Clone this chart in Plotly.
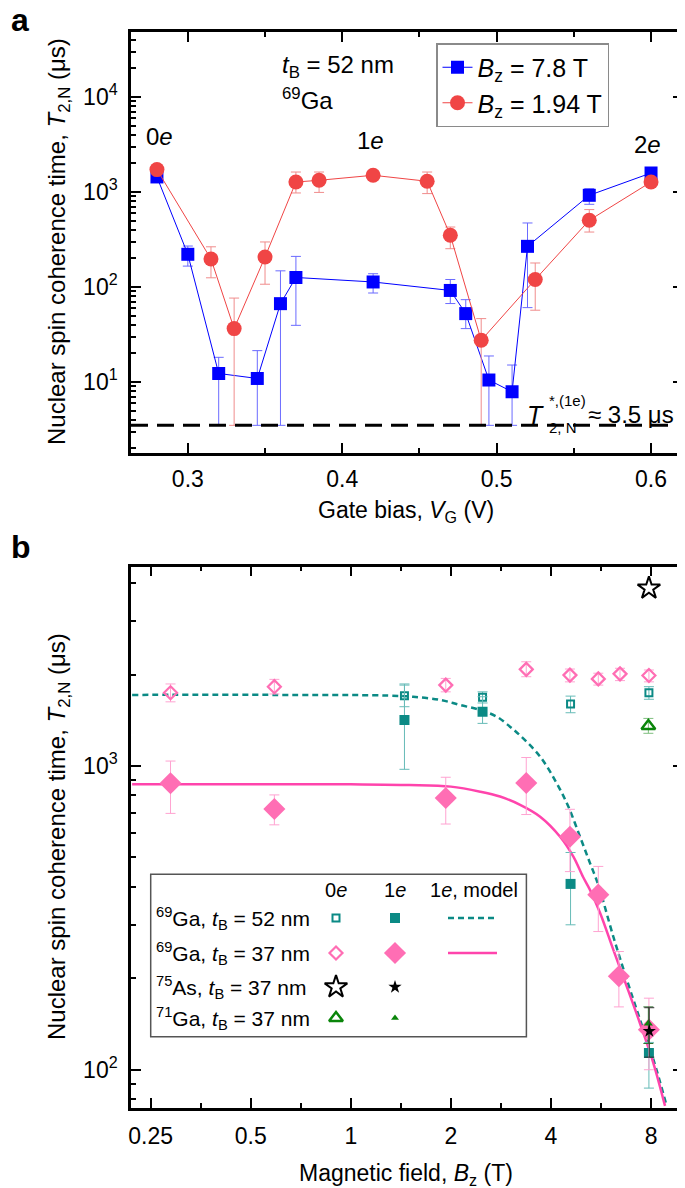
import plotly.graph_objects as go

# ---------------- Panel a data (gate bias dependence) ----------------
vg_78 = [0.28, 0.30, 0.32, 0.345, 0.36, 0.37, 0.42, 0.47, 0.48, 0.495, 0.51, 0.52, 0.56, 0.60]
t_78 = [1440, 221, 12.3, 10.9, 66.8, 126, 113, 92, 52.5, 10.5, 7.9, 268, 923, 1585]
t_78_hi = [1500, 270, 18.2, 21.4, 148, 210, 138, 120, 73.6, 18.8, 15.1, 472, 1085, 1680]
T2_STAR = 3.5
t_78_lo = [1380, 166, T2_STAR, T2_STAR, T2_STAR, 39.5, 86.5, 67, 36.5, T2_STAR, T2_STAR, 60.7, 742, 1500]

vg_194 = [0.28, 0.315, 0.33, 0.35, 0.37, 0.385, 0.42, 0.455, 0.47, 0.49, 0.525, 0.56, 0.60]
t_194 = [1720, 197, 36.5, 207, 1274, 1328, 1500, 1297, 350, 27.5, 120, 504, 1274]
t_194_hi = [1800, 265, 76.5, 298, 1623, 1623, 1600, 1623, 428, 46.5, 179, 653, 1340]
t_194_lo = [1650, 125, T2_STAR, 107, 977, 990, 1420, 962, 253, T2_STAR, 57, 379, 1210]

# ---------------- Panel b data (field dependence) ----------------
b_ga69_52_0e = [1.45, 2.49, 4.58, 7.88]
t_ga69_52_0e = [1703, 1683, 1600, 1742]
t_ga69_52_0e_hi = [1862, 1754, 1698, 1824]
t_ga69_52_0e_lo = [1567, 1612, 1497, 1658]

b_ga69_52_1e = [1.45, 2.49, 4.58, 7.88]
t_ga69_52_1e = [1417, 1509, 409, 113.5]
t_ga69_52_1e_hi = [1846, 1690, 519, 123]
t_ga69_52_1e_lo = [975, 1381, 300, 87]

b_ga69_37_0e = [0.287, 0.589, 1.93, 3.37, 4.56, 5.55, 6.45, 7.88]
t_ga69_37_0e = [1742, 1824, 1846, 2080, 1991, 1935, 2010, 1985]
t_ga69_37_0e_hi = [1862, 1928, 1942, 2203, 2085, 2020, 2097, 2070]
t_ga69_37_0e_lo = [1626, 1726, 1754, 1967, 1892, 1846, 1910, 1892]

b_ga69_37_1e = [0.287, 0.589, 1.93, 3.37, 4.56, 5.55, 6.4, 7.88]
t_ga69_37_1e = [877, 722, 784, 879, 585, 377, 203, 135.5]
t_ga69_37_1e_hi = [1038, 803, 918, 1066, 720, 467, 245, 172]
t_ga69_37_1e_lo = [698, 640, 644, 692, 449, 285, 161, 100]

b_as75_0e = [7.88]
t_as75_0e = [3846]
b_as75_1e = [7.9]
t_as75_1e = [134]
t_as75_1e_hi = [160]
t_as75_1e_lo = [110]

b_ga71_0e = [7.85]
t_ga71_0e = [1354]
t_ga71_0e_hi = [1434]
t_ga71_0e_lo = [1281]
b_ga71_1e = [7.85]
t_ga71_1e = [142]
t_ga71_1e_hi = [161]
t_ga71_1e_lo = [122]

# model curves
b_model_52 = [0.22, 0.6, 1.0, 1.3, 1.54, 1.86, 2.13, 2.45, 2.75, 3.01, 3.23, 3.71, 4.16, 4.51,
              4.89, 5.24, 5.55, 6.16, 6.76, 7.41, 8.13, 8.91]
t_model_52 = [1714, 1714, 1712, 1705, 1690, 1649, 1588, 1528, 1452, 1347, 1260, 1073, 877, 735,
              585, 479, 406, 274, 198, 146, 108, 76]
b_model_37 = [0.22, 0.6, 1.0, 1.5, 2.0, 2.45, 2.81, 3.23, 3.71, 4.26, 4.67, 5.0, 5.24, 5.62,
              6.16, 6.76, 7.41, 8.13, 8.81]
t_model_37 = [871, 871, 870, 866, 855, 823, 793, 745, 681, 585, 503, 430, 391, 328,
              248, 188, 142, 105, 76]

# tick labels
xa_ticks = [0.3, 0.4, 0.5, 0.6]
xa_minor = [0.35, 0.45, 0.55]
ya_ticks = [10, 100, 1000, 10000]
ya_text = ["10<sup>1</sup>", "10<sup>2</sup>", "10<sup>3</sup>", "10<sup>4</sup>"]
xb_ticks = [0.25, 0.5, 1, 2, 4, 8]
xb_text = ["0.25", "0.5", "1", "2", "4", "8"]
xb_minor = [0.3536, 0.7071, 1.4142, 2.8284, 5.6569]
yb_ticks = [100, 1000]
yb_text = ["10<sup>2</sup>", "10<sup>3</sup>"]


def errs(v, hi, lo):
    return [h - x for x, h in zip(v, hi)], [x - l for x, l in zip(v, lo)]


# ---------------- layout geometry (page pixel frame) ----------------
PAGE_W, PAGE_H = 685, 1188
BODY = 8                      # default page margin around the plot div
PLOT_L, PLOT_R, PLOT_T, PLOT_B = 131, 683, 32, 1108
W, H = PAGE_W - BODY, PAGE_H - BODY
ML, MT = PLOT_L - BODY, PLOT_T - BODY
MR, MB = PAGE_W - PLOT_R, PAGE_H - PLOT_B
PW, PH = PLOT_R - PLOT_L, PLOT_B - PLOT_T


def px(x):
    return (x - PLOT_L) / PW


def py(y):
    return (PLOT_B - y) / PH


FONT = "Arial, Liberation Sans, sans-serif"
BLUE, BLUE_E = "#0000ff", "#6b6bff"
RED, RED_E = "#f04545", "#f08c8c"
TEAL, TEAL_E = "#0b8a85", "#66bbb7"
PINK, PINK_E, PINK_L = "#ff6eb4", "#ffa3d1", "#ff44ac"
GREEN = "#0a850a"

fig = go.Figure()

# ---- panel a ----
ep, em = errs(t_78, t_78_hi, t_78_lo)
fig.add_trace(go.Scatter(
    x=vg_78, y=t_78, mode="lines+markers", xaxis="x", yaxis="y",
    name="<i>B</i><sub>z</sub> = 7.8 T",
    line=dict(color=BLUE, width=1),
    marker=dict(symbol="square", size=13, color=BLUE),
    error_y=dict(type="data", symmetric=False, array=ep, arrayminus=em,
                 color=BLUE_E, thickness=1, width=5)))
ep, em = errs(t_194, t_194_hi, t_194_lo)
fig.add_trace(go.Scatter(
    x=vg_194, y=t_194, mode="lines+markers", xaxis="x", yaxis="y",
    name="<i>B</i><sub>z</sub> = 1.94 T",
    line=dict(color=RED, width=1),
    marker=dict(symbol="circle", size=15, color=RED),
    error_y=dict(type="data", symmetric=False, array=ep, arrayminus=em,
                 color=RED_E, thickness=1, width=5)))

# ---- panel b ----
fig.add_trace(go.Scatter(x=b_model_52, y=t_model_52, mode="lines", xaxis="x2", yaxis="y2",
                         showlegend=False, line=dict(color=TEAL, width=2.5, dash="6px,4px", shape="spline")))
fig.add_trace(go.Scatter(x=b_model_37, y=t_model_37, mode="lines", xaxis="x2", yaxis="y2",
                         showlegend=False, line=dict(color=PINK_L, width=2.5, shape="spline")))


def add_pts(x, y, hi, lo, marker, ecolor):
    kw = {}
    if hi is not None:
        ep, em = errs(y, hi, lo)
        kw["error_y"] = dict(type="data", symmetric=False, array=ep, arrayminus=em,
                             color=ecolor, thickness=1, width=5)
    fig.add_trace(go.Scatter(x=x, y=y, mode="markers", xaxis="x2", yaxis="y2",
                             showlegend=False, marker=marker, **kw))


add_pts(b_ga69_37_0e, t_ga69_37_0e, t_ga69_37_0e_hi, t_ga69_37_0e_lo,
        dict(symbol="diamond-open", size=10, color=PINK, line=dict(width=2.2, color=PINK)), PINK_E)
add_pts(b_ga69_52_0e, t_ga69_52_0e, t_ga69_52_0e_hi, t_ga69_52_0e_lo,
        dict(symbol="square-open", size=7, color=TEAL, line=dict(width=2, color=TEAL)), TEAL_E)
add_pts(b_ga69_52_1e, t_ga69_52_1e, t_ga69_52_1e_hi, t_ga69_52_1e_lo,
        dict(symbol="square", size=10, color=TEAL), TEAL_E)
add_pts(b_ga69_37_1e, t_ga69_37_1e, t_ga69_37_1e_hi, t_ga69_37_1e_lo,
        dict(symbol="diamond", size=17, color=PINK), PINK_E)
add_pts(b_ga71_0e, t_ga71_0e, t_ga71_0e_hi, t_ga71_0e_lo,
        dict(symbol="triangle-up-open", size=12, color=GREEN, line=dict(width=2.5, color=GREEN)), "#7fbf7f")
add_pts(b_ga71_1e, t_ga71_1e, t_ga71_1e_hi, t_ga71_1e_lo,
        dict(symbol="triangle-up", size=8, color=GREEN), "#2f6f2f")
add_pts(b_as75_1e, t_as75_1e, t_as75_1e_hi, t_as75_1e_lo,
        dict(symbol="star", size=10, color="black"), "#333333")
add_pts(b_as75_0e, t_as75_0e, None, None,
        dict(symbol="star-open", size=17, color="black", line=dict(width=2, color="black")), None)

# ---- panel b legend (table) glyphs on a pixel-space overlay axis ----
leg_rows_y = [918, 953, 987, 1018]
leg_col_0e, leg_col_1e, leg_model = 336, 395, (448, 497)
glyphs = [
    (leg_col_0e, leg_rows_y[0], dict(symbol="square-open", size=7, color=TEAL, line=dict(width=2, color=TEAL))),
    (leg_col_1e, leg_rows_y[0], dict(symbol="square", size=10, color=TEAL)),
    (leg_col_0e, leg_rows_y[1], dict(symbol="diamond-open", size=10, color=PINK, line=dict(width=2.2, color=PINK))),
    (leg_col_1e, leg_rows_y[1], dict(symbol="diamond", size=17, color=PINK)),
    (leg_col_0e, leg_rows_y[2], dict(symbol="star-open", size=17, color="black", line=dict(width=2, color="black"))),
    (leg_col_1e, leg_rows_y[2], dict(symbol="star", size=10, color="black")),
    (leg_col_0e, leg_rows_y[3], dict(symbol="triangle-up-open", size=12, color=GREEN, line=dict(width=2.5, color=GREEN))),
    (leg_col_1e, leg_rows_y[3], dict(symbol="triangle-up", size=7, color=GREEN)),
]
for gx, gy, mk in glyphs:
    fig.add_trace(go.Scatter(x=[gx], y=[gy], mode="markers", xaxis="x3", yaxis="y3",
                             showlegend=False, marker=mk, hoverinfo="skip"))
fig.add_trace(go.Scatter(x=list(leg_model), y=[leg_rows_y[0]] * 2, mode="lines", xaxis="x3", yaxis="y3",
                         showlegend=False, line=dict(color=TEAL, width=2.5, dash="6px,4px"), hoverinfo="skip"))
fig.add_trace(go.Scatter(x=list(leg_model), y=[leg_rows_y[1]] * 2, mode="lines", xaxis="x3", yaxis="y3",
                         showlegend=False, line=dict(color=PINK_L, width=2.5), hoverinfo="skip"))

# ---------------- axes ----------------
common = dict(showline=True, linewidth=2.5, linecolor="black", mirror="allticks",
              ticks="inside", ticklen=10, tickwidth=2, tickcolor="black",
              showgrid=False, zeroline=False,
              tickfont=dict(family=FONT, size=23, color="black"))
minor_common = dict(ticks="inside", ticklen=5, tickwidth=2, tickcolor="black", showgrid=False)

ya_minor = [k * 10 ** d for d in range(0, 5) for k in range(2, 10)]
yb_minor = [k * 10 ** d for d in range(1, 4) for k in range(2, 10)]

dom_a = [py(453), 1.0]
dom_b = [0.0, py(566.7)]

fig.update_layout(
    width=W, height=H,
    margin=dict(l=ML, r=MR, t=MT, b=MB, autoexpand=False),
    paper_bgcolor="white", plot_bgcolor="rgba(0,0,0,0)",
    font=dict(family=FONT, size=23, color="black"),
    xaxis=dict(domain=[0, 1], anchor="y", range=[0.2632, 0.6207], tickmode="array",
               tickvals=xa_ticks, ticktext=[str(v) for v in xa_ticks], ticklabelstandoff=4,
               minor=dict(tickmode="array", tickvals=xa_minor, **minor_common), **common),
    yaxis=dict(domain=dom_a, anchor="x", type="log", range=[0.253, 4.684], tickmode="array",
               tickvals=ya_ticks, ticktext=ya_text, ticklabelstandoff=6,
               minor=dict(tickmode="array", tickvals=ya_minor, **minor_common), **common),
    xaxis2=dict(domain=[0, 1], anchor="y2", type="log", range=[-0.661, 0.999], tickmode="array",
                tickvals=xb_ticks, ticktext=xb_text, ticklabelstandoff=6,
                minor=dict(tickmode="array", tickvals=xb_minor, **minor_common), **common),
    yaxis2=dict(domain=dom_b, anchor="x2", type="log", range=[1.874, 3.656], tickmode="array",
                tickvals=yb_ticks, ticktext=yb_text, ticklabelstandoff=6,
                minor=dict(tickmode="array", tickvals=yb_minor, **minor_common), **common),
    xaxis3=dict(domain=[0, 1], anchor="y3", range=[PLOT_L, PLOT_R], visible=False, fixedrange=True),
    yaxis3=dict(domain=[0, 1], anchor="x3", range=[PLOT_B, PLOT_T], visible=False, fixedrange=True),
    legend=dict(x=px(436), y=py(43), xanchor="left", yanchor="top",
                bordercolor="#8a8a8a", borderwidth=1.5, bgcolor="white",
                font=dict(family=FONT, size=25, color="black"), tracegroupgap=0,
                itemwidth=30),
    showlegend=True,
)

# dashed T2* line
fig.add_shape(type="line", xref="x domain", x0=0, x1=1, yref="y", y0=T2_STAR, y1=T2_STAR,
              line=dict(color="black", width=3, dash="17px,9px"))

# panel b legend box
fig.add_shape(type="rect", xref="paper", yref="paper", x0=px(150.7), x1=px(526.4),
              y0=py(1036.7), y1=py(874.3), line=dict(color="#555555", width=1.5), fillcolor="rgba(0,0,0,0)")


def ann(text, x, y, size=23, xanchor="center", angle=0, yanchor="middle"):
    fig.add_annotation(text=text, x=px(x), y=py(y), xref="paper", yref="paper",
                       showarrow=False, xanchor=xanchor, yanchor=yanchor, textangle=angle,
                       font=dict(family=FONT, size=size, color="black"))


# panel letters
ann("<b>a</b>", 9, 20, size=32, xanchor="left")
ann("<b>b</b>", 9, 547, size=32, xanchor="left")

# axis titles
ann("Gate bias, <i>V</i><sub>G</sub> (V)", 406, 511)
ann("Magnetic field, <i>B</i><sub>z</sub> (T)", 406, 1174)
ann("Nuclear spin coherence time, <i>T</i><sub>2,N</sub> (μs)", 58, 242, size=24, angle=-90)
ann("Nuclear spin coherence time, <i>T</i><sub>2,N</sub> (μs)", 58, 837, size=24, angle=-90)

# panel a texts
ann("<i>t</i><sub>B</sub> = 52 nm", 280, 66, size=24, xanchor="left")
ann("<sup>69</sup>Ga", 280, 99, size=24, xanchor="left")
ann("0<i>e</i>", 159, 137, size=24)
ann("1<i>e</i>", 370, 141, size=24)
ann("2<i>e</i>", 647, 144, size=24)
ann("<i>T</i>", 535, 415, size=25)
ann("*,(1e)", 547, 401, size=15, xanchor="left")
ann("2, N", 547, 428, size=15, xanchor="left")
ann("≈ 3.5 μs", 586, 415, size=24, xanchor="left")

# panel b legend texts
ann("0<i>e</i>", leg_col_0e, 890, size=20)
ann("1<i>e</i>", leg_col_1e, 890, size=20)
ann("1<i>e</i>, model", 474, 890, size=20)
ann("<sup>69</sup>Ga, <i>t</i><sub>B</sub> = 52 nm", 154, leg_rows_y[0], size=21, xanchor="left")
ann("<sup>69</sup>Ga, <i>t</i><sub>B</sub> = 37 nm", 154, leg_rows_y[1], size=21, xanchor="left")
ann("<sup>75</sup>As, <i>t</i><sub>B</sub> = 37 nm", 154, leg_rows_y[2], size=21, xanchor="left")
ann("<sup>71</sup>Ga, <i>t</i><sub>B</sub> = 37 nm", 154, leg_rows_y[3], size=21, xanchor="left")

fig.write_html("out.html")
